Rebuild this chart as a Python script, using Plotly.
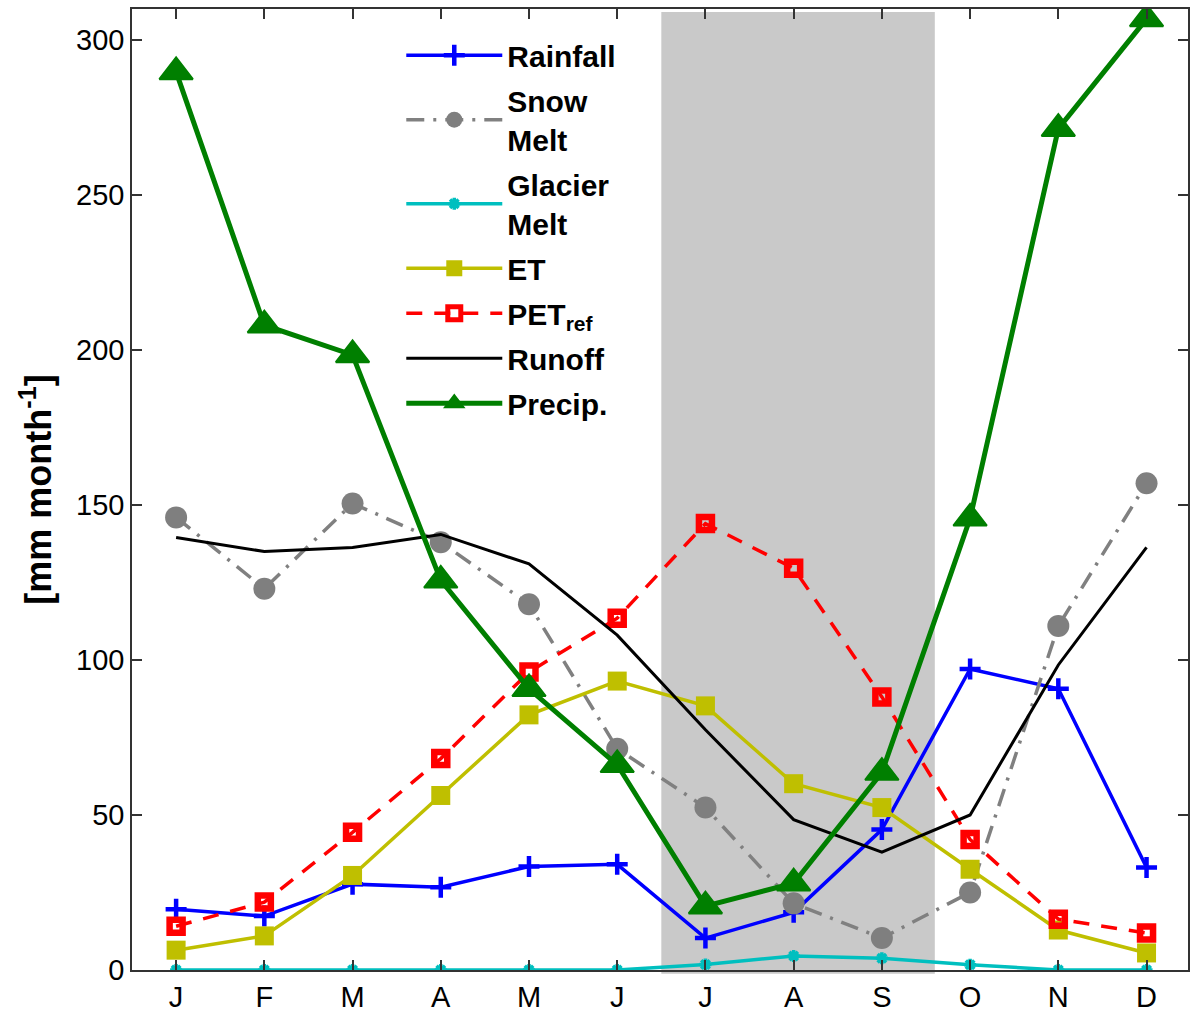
import plotly.graph_objects as go

months = ["J", "F", "M", "A", "M", "J", "J", "A", "S", "O", "N", "D"]
month_idx = list(range(1, 13))

rainfall = [19.6, 17.4, 27.7, 26.7, 33.4, 34.1, 10.3, 18.6, 45.3, 97.1, 90.7, 33.1]
snow_melt = [146, 123, 150.5, 138, 118, 71.4, 52.4, 21.5, 10.3, 25, 111, 157]
glacier_melt = [0, 0, 0, 0, 0, 0, 1.8, 4.5, 3.8, 1.7, 0, 0]
et = [6.4, 11, 30.5, 56.3, 82.3, 93.2, 85.2, 60.1, 52.4, 32.5, 12.9, 5.5]
pet_ref = [14.1, 21.9, 44.4, 68.2, 96.1, 113.5, 144, 129.6, 88.1, 42.1, 16.4, 11.9]
runoff = [139.5, 135, 136.3, 140.5, 131, 108, 77.5, 48.5, 38, 50, 98.4, 136.3]
precip = [289.7, 208, 198.4, 125.7, 90.7, 66.2, 20.6, 28, 63.7, 145.7, 271.4, 306.8]

y_ticks = [0, 50, 100, 150, 200, 250, 300]
shade_months = [6.5, 9.6]

FONT = "Liberation Sans, Arial, sans-serif"

fig = go.Figure()

fig.add_trace(go.Scatter(
    x=month_idx, y=rainfall, name="Rainfall", mode="lines+markers",
    line=dict(color="#0000FF", width=3.5),
    marker=dict(symbol="cross-thin", size=15, color="#0000FF",
                line=dict(color="#0000FF", width=4.5)),
    legendgroup="a"))
fig.add_trace(go.Scatter(
    x=month_idx, y=snow_melt, name="Snow<br>Melt", mode="lines+markers",
    line=dict(color="#808080", width=3.5, dash="18px,9px,3px,9px"),
    marker=dict(symbol="circle", size=22, color="#7F7F7F"),
    legendgroup="b"))
fig.add_trace(go.Scatter(
    x=month_idx, y=glacier_melt, name="Glacier<br>Melt", mode="lines+markers",
    line=dict(color="#00BFBF", width=3.5),
    marker=dict(symbol="asterisk", size=10, color="#00BFBF",
                line=dict(color="#00BFBF", width=3.5)),
    legendgroup="c"))
fig.add_trace(go.Scatter(
    x=month_idx, y=et, name="ET", mode="lines+markers",
    line=dict(color="#BFBF00", width=3.5),
    marker=dict(symbol="square", size=19, color="#BFBF00"),
    legendgroup="d"))
fig.add_trace(go.Scatter(
    x=month_idx, y=pet_ref, name="PET<sub>ref</sub>", mode="lines+markers",
    line=dict(color="#FF0000", width=3.5, dash="16px,12px"),
    marker=dict(symbol="square-open", size=13, color="#FF0000",
                line=dict(color="#FF0000", width=6.5)),
    legendgroup="e"))
fig.add_trace(go.Scatter(
    x=month_idx, y=runoff, name="Runoff", mode="lines",
    line=dict(color="#000000", width=3),
    legendgroup="f"))
fig.add_trace(go.Scatter(
    x=month_idx, y=precip, name="Precip.", mode="lines+markers",
    line=dict(color="#007F00", width=5),
    marker=dict(symbol="triangle-up", size=29, color="#007F00",
                line=dict(color="#007F00", width=2)),
    legendgroup="g"))

fig.add_shape(type="rect", xref="x", yref="paper",
              x0=shade_months[0], x1=shade_months[1], y0=-0.004, y1=0.9969,
              fillcolor="#C9C9C9", line=dict(width=0), layer="below")

axis_common = dict(
    showline=True, linecolor="#333333", linewidth=1.5, mirror="ticks",
    ticks="inside", ticklen=10, tickwidth=1.5, tickcolor="#333333",
    showgrid=False, zeroline=False,
    tickfont=dict(family=FONT, size=29, color="#000000"),
)

fig.update_xaxes(range=[0.5, 12.47], tickvals=month_idx, ticktext=months, **axis_common)
fig.update_yaxes(range=[0, 310], tickvals=y_ticks,
                 title=dict(text="[mm month<sup>-1</sup>]",
                            font=dict(family=FONT, size=36, color="#000000", weight="bold"),
                            standoff=13),
                 **axis_common)

fig.update_layout(
    width=1190, height=1013,
    margin=dict(l=132, r=0, t=9, b=39),
    plot_bgcolor="white", paper_bgcolor="white",
    showlegend=True,
    legend=dict(x=0.255, y=0.979, xanchor="left", yanchor="top",
                bgcolor="rgba(0,0,0,0)", borderwidth=0,
                font=dict(family=FONT, size=30, color="#000000", weight="bold"),
                itemwidth=96, tracegroupgap=3, traceorder="grouped",
                itemsizing="trace"),
)

fig.write_html("out.html")
